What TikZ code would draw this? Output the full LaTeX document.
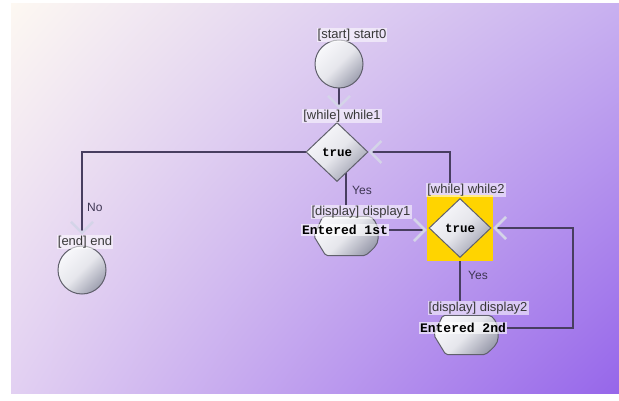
\documentclass[tikz,border=0pt]{standalone}
\usepackage{fontspec}
\setsansfont{Liberation Sans}
\setmonofont{Liberation Mono}
\usepackage{tikz}
\usetikzlibrary{arrows.meta,shapes.geometric,positioning,calc,backgrounds,shadings}

\definecolor{bgcream}{RGB}{253,248,242}
\definecolor{bgtopr}{RGB}{200,176,240}
\definecolor{bgbotl}{RGB}{226,208,242}
\definecolor{bgbotr}{RGB}{150,102,234}
\definecolor{flowline}{RGB}{72,62,96}
\definecolor{tipgrey}{RGB}{212,212,232}
\definecolor{shapelight}{RGB}{248,248,251}
\definecolor{shapedark}{RGB}{158,160,176}
\definecolor{shapeedge}{RGB}{96,96,108}
\definecolor{whilegold}{RGB}{255,212,0}

\tikzset{
  flow/.style={line width=1.2pt,draw=flowline,-{Straight Barb[length=11pt,width=22pt,line width=2.6pt,color=tipgrey]}},
  flowplain/.style={line width=1.2pt,draw=flowline},
  glossy/.style={top color=shapelight,bottom color=shapedark,middle color=shapelight!80!shapedark,shading angle=45,draw=shapeedge,line width=1pt},
  terminal/.style={circle,glossy,minimum size=48pt,inner sep=0pt},
  whilebox/.style={diamond,glossy,minimum width=62pt,minimum height=59pt,inner sep=0pt,
    font=\ttfamily\bfseries\fontsize{12.5}{13}\selectfont},
  tag/.style={font=\sffamily\fontsize{13}{14}\selectfont,text=black!78,fill=white,fill opacity=.55,text opacity=1,inner sep=1pt},
  cond/.style={font=\sffamily\fontsize{12}{13}\selectfont,text=flowline!85!black,inner sep=0pt},
  codetext/.style={font=\ttfamily\bfseries\fontsize{13}{14}\selectfont,fill=white,fill opacity=.6,text opacity=1,inner sep=1pt},
  dispbox/.style={rectangle,minimum width=64pt,minimum height=39pt,inner sep=0pt}
}

\newcommand{\dispshape}[1]{%
  \path[glossy,rounded corners=2pt] ([xshift=9pt]#1.north west) -- ([xshift=-8pt]#1.north east)
    to[out=-40,in=90] (#1.east) to[out=-90,in=40] ([xshift=-13pt]#1.south east)
    -- ([xshift=12pt]#1.south west) -- (#1.west) -- cycle;}

\begin{document}
\begin{tikzpicture}[x=1pt,y=-1pt]
  \useasboundingbox (0,0) rectangle (619,401);

  \node[terminal] (start0) at (339,64) {};
  \node[tag] (tstart0) at (352,35) {[start] start0};

  \node[whilebox] (while1) at (337,152) {true};
  \node[tag] (twhile1) at (342,116) {[while] while1};

  \node[terminal] (end) at (82,270) {};
  \node[tag] (tend) at (85,242) {[end] end};
  \node[cond,anchor=west] (lno) at (87,207) {No};

  \node[dispbox] (display1) at (346,236) {};
  \dispshape{display1}
  \node[codetext] (d1text) at (345,230) {Entered 1st};
  \node[tag] (tdisplay1) at (361,212) {[display] display1};
  \node[cond,anchor=west] (lyes1) at (352,190) {Yes};

  \node[rectangle,fill=whilegold,minimum size=66pt,inner sep=0pt] (w2box) at (460,228) {};
  \node[whilebox] (while2) at (460,228) {true};
  \node[tag] (twhile2) at (466,190) {[while] while2};

  \node[dispbox] (display2) at (466,335) {};
  \dispshape{display2}
  \node[codetext] (d2text) at (463,328) {Entered 2nd};
  \node[tag] (tdisplay2) at (478,308) {[display] display2};
  \node[cond,anchor=west] (lyes2) at (468,275) {Yes};

  \coordinate (loop1) at (450,152);
  \coordinate (loop2) at (573,228);

  \begin{scope}[on background layer]
    \shade[upper left=bgcream,upper right=bgtopr,lower left=bgbotl,lower right=bgbotr] (11,4) rectangle (619,393);
    \draw[flow] (start0) -- (start0 |- twhile1.north);
    \draw[flow] (while1) -| (end |- tend.north);
    \draw[flowplain] (while1 -| display1) -- (display1 |- tdisplay1.north);
    \draw[flow] (d1text.east) -- (d1text.east -| w2box.west);
    \draw[flowplain] (w2box.south) -- (w2box.south |- tdisplay2.north);
    \draw[flow] (d2text.east) -| (loop2) -- (w2box.east);
    \draw[flow] (twhile2.north -| loop1) -- (loop1) -- (while1.east);
  \end{scope}
\end{tikzpicture}
\end{document}
